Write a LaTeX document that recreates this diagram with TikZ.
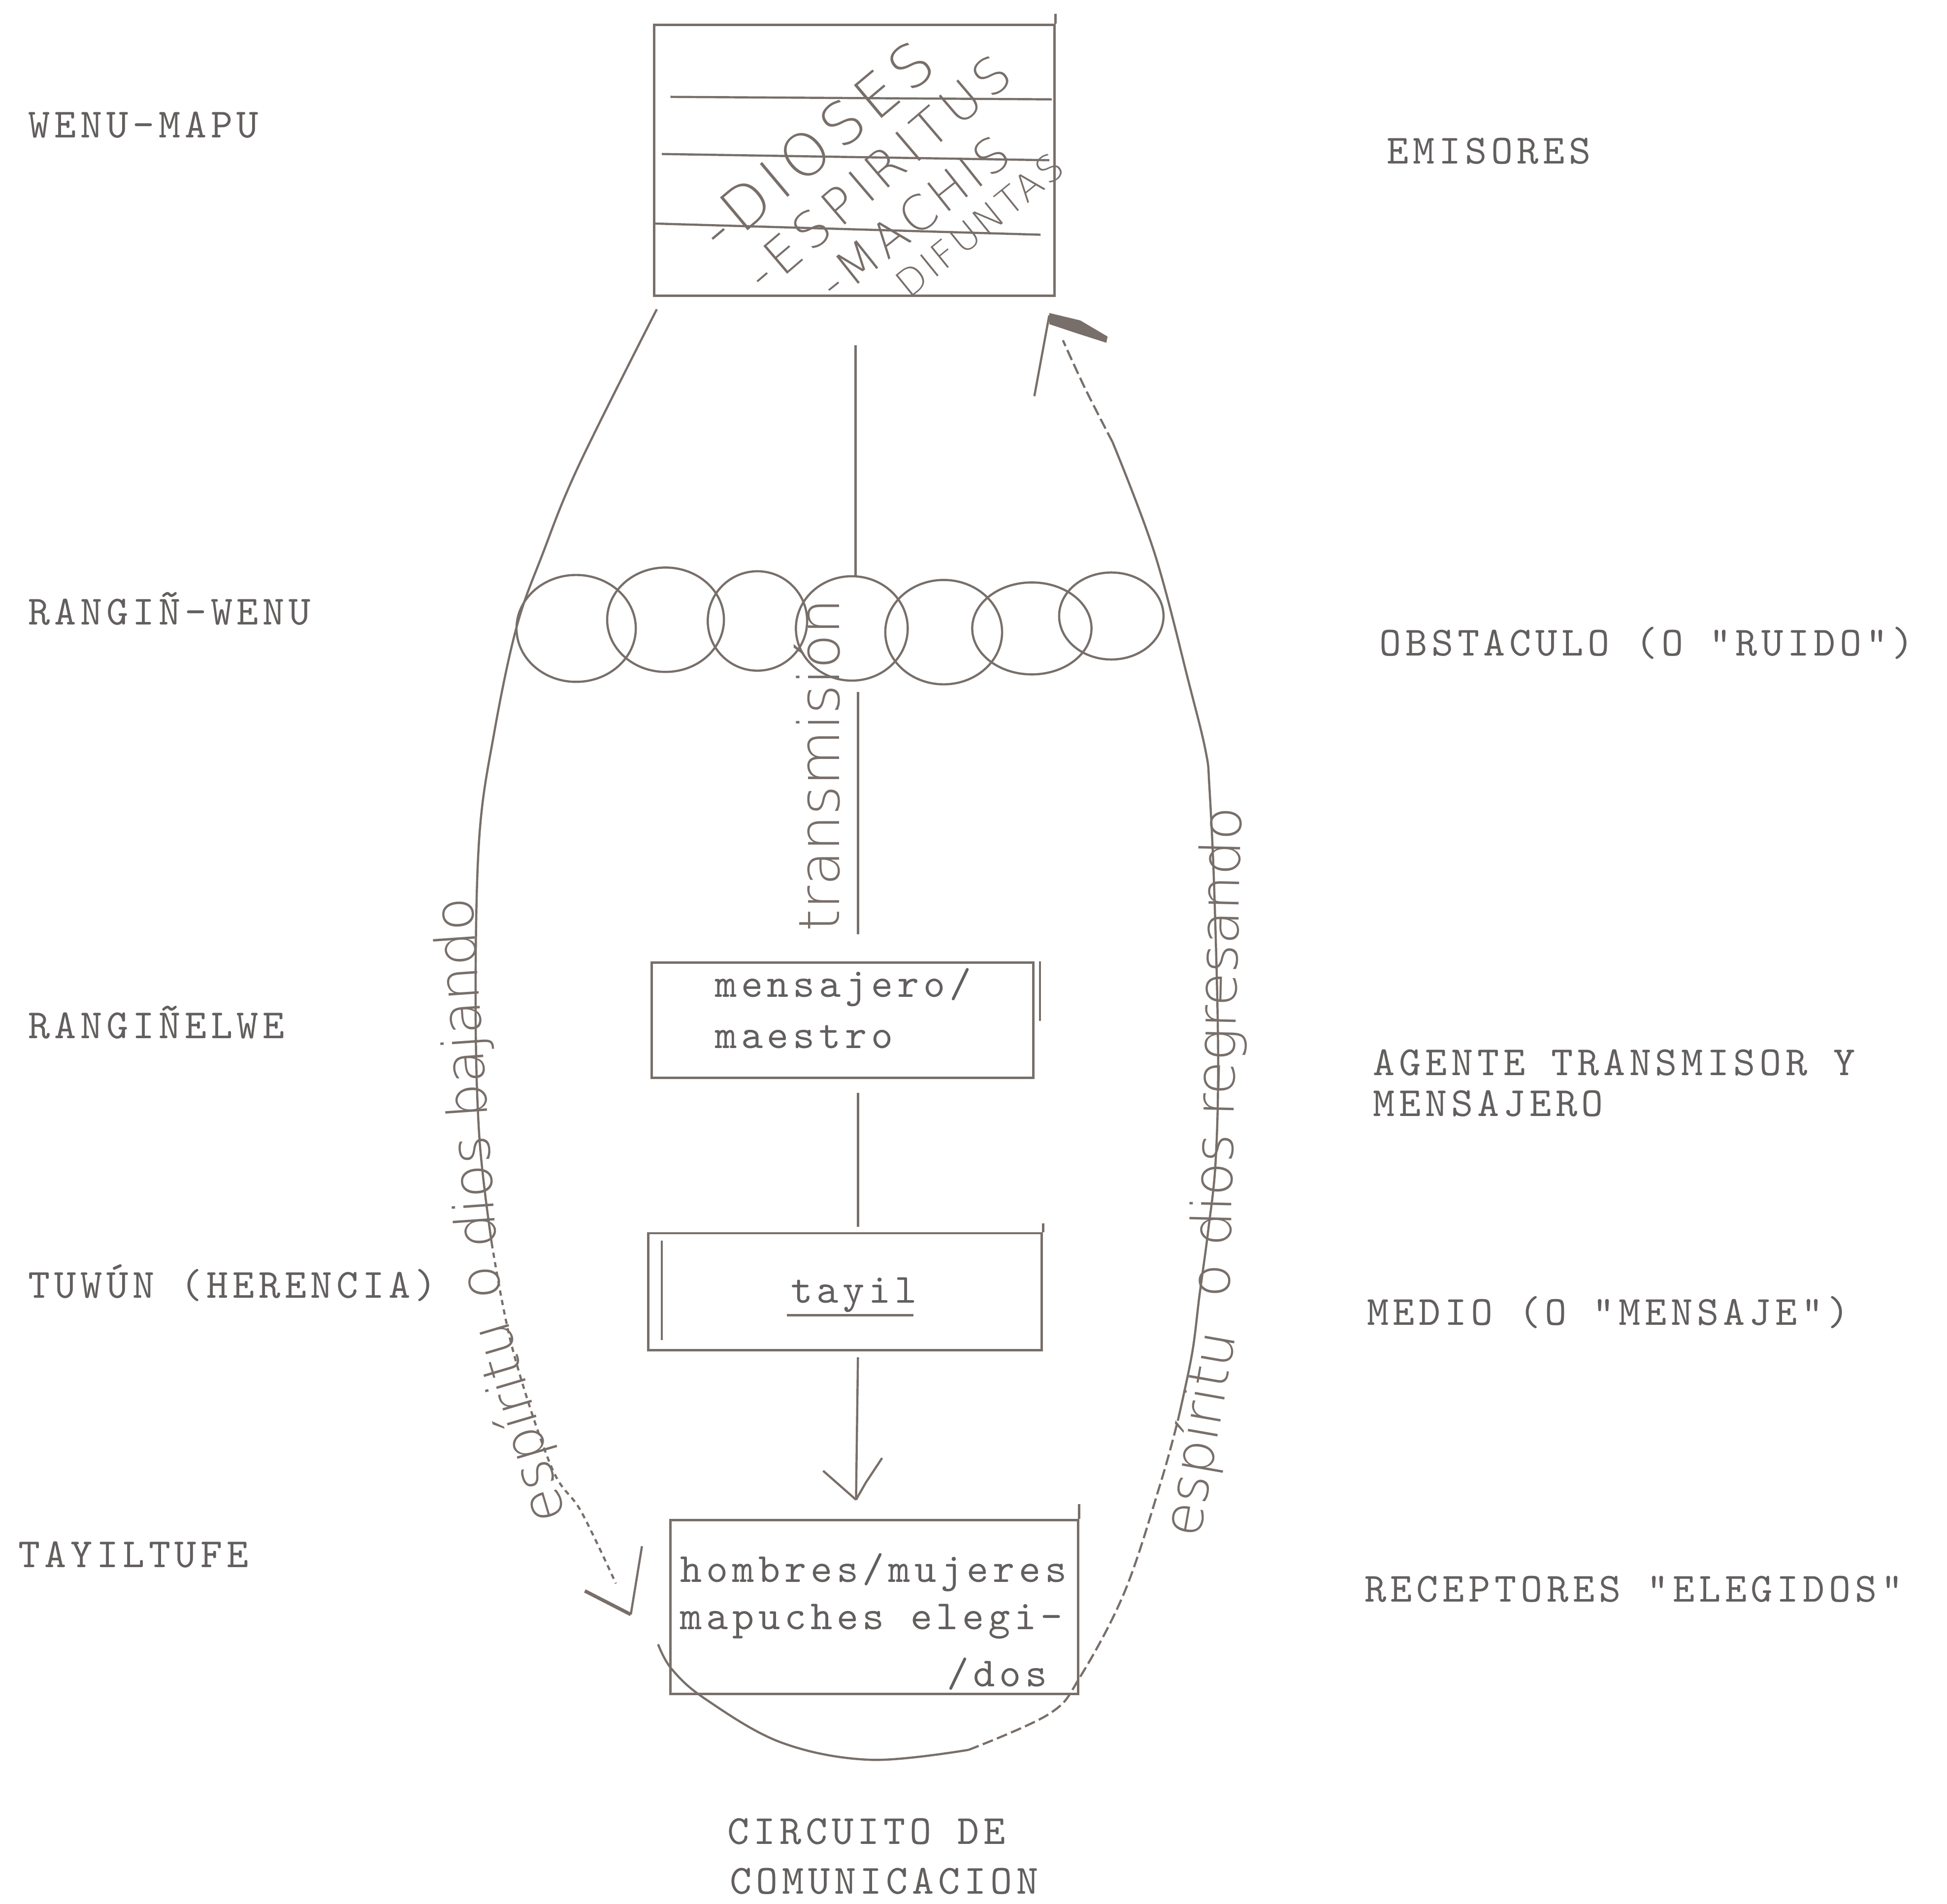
\documentclass[tikz,border=0pt]{standalone}
\usepackage{fontspec}
\usetikzlibrary{calc,shapes.geometric}
\newfontfamily\twfam{lmmono10-regular.otf}[LetterSpace=10.3]
\newfontfamily\hwfam{DejaVuSans-ExtraLight.ttf}
\newfontfamily\hwA{DejaVuSans-ExtraLight.ttf}[LetterSpace=12]
\newfontfamily\hwB{DejaVuSans-ExtraLight.ttf}[LetterSpace=8]
\newfontfamily\hwC{DejaVuSans-ExtraLight.ttf}[LetterSpace=7]
\definecolor{ink}{RGB}{120,111,106}
\definecolor{typ}{RGB}{98,95,94}
\tikzset{
  lbl/.style={anchor=base west, inner sep=0pt, text=typ, font=\twfam\fontsize{9.5}{11}\selectfont},
  tbox/.style={draw=ink, line width=0.55pt, inner sep=0pt, rectangle},
  hw/.style={inner sep=0pt, text=ink},
  side/.style={hw, anchor=base west, font=\hwfam\fontsize{12.6}{14}\selectfont},
  ring/.style={draw=ink, ellipse, inner sep=0pt, line width=0.5pt},
  faint/.style={dash pattern=on 2.5pt off 1pt},
  dotty/.style={dash pattern=on 1.2pt off 1pt},
}
\begin{document}
\begin{tikzpicture}[x=0.01cm,y=-0.01cm,line width=0.5pt,color=ink]
\useasboundingbox (0,0) rectangle (1568,1533);

% ---- left labels
\node[lbl] (l1) at (22,111) {WENU-MAPU};
\node[lbl] (l2) at (22,503) {RANGIÑ-WENU};
\node[lbl] (l3) at (22,836) {RANGIÑELWE};
\node[lbl] (l4) at (22,1045) {TUWÚN (HERENCIA)};
\node[lbl] (l5) at (14,1262) {TAYILTUFE};
% ---- right labels
\node[lbl] (r1) at (1116,132) {EMISORES};
\node[lbl] (r2) at (1110,528) {OBSTACULO (O "RUIDO")};
\node[lbl] (r3a) at (1105,866) {AGENTE TRANSMISOR Y};
\node[lbl] (r3b) at (1105,899) {MENSAJERO};
\node[lbl] (r4) at (1100,1067) {MEDIO (O "MENSAJE")};
\node[lbl] (r5) at (1098,1290) {RECEPTORES "ELEGIDOS"};
% ---- bottom title
\node[lbl] (b1) at (585,1485) {CIRCUITO DE};
\node[lbl] (b2) at (587,1525) {COMUNICACION};

% ---- top box (emisores)
\node[tbox, minimum width=3.22cm, minimum height=2.18cm] (emis) at (688,129) {};
\draw (emis.north east) -- ++(0,-8);
\draw (540,78) -- (847,80);
\draw (533,124) -- (845,129);
\draw (527,180) -- (838,189);
\node[hw, rotate=40, font=\hwA\fontsize{13.5}{15}\selectfont] (w1) at (657,117) {-DIOSES};
\node[hw, rotate=40.5, font=\hwA\fontsize{11.5}{13}\selectfont] (w2) at (707,139) {-ESPIRITUS};
\node[hw, rotate=38.5, font=\hwB\fontsize{11}{13}\selectfont] (w3) at (736,175) {-MACHIS};
\node[hw, rotate=39, font=\hwC\fontsize{8.5}{10}\selectfont] (w4) at (789,181) {DIFUNTAS};

% ---- obstacle rings
\node[ring, minimum width=0.96cm, minimum height=0.86cm] (o1) at (464,506) {};
\node[ring, minimum width=0.94cm, minimum height=0.84cm] (o2) at (536,499) {};
\node[ring, minimum width=0.80cm, minimum height=0.80cm] (o3) at (610,500) {};
\node[ring, minimum width=0.90cm, minimum height=0.84cm] (o4) at (686,506) {};
\node[ring, minimum width=0.94cm, minimum height=0.84cm] (o5) at (760,509) {};
\node[ring, minimum width=0.96cm, minimum height=0.74cm] (o6) at (831,506) {};
\node[ring, minimum width=0.84cm, minimum height=0.70cm] (o7) at (895,496) {};

% ---- mensajero box
\node[tbox, minimum width=3.07cm, minimum height=0.93cm] (mens) at (678.5,821.5) {};
\draw (837.6,774) -- (837.6,822);
\node[lbl] (mt1) at (575,803) {mensajero/};
\node[lbl] (mt2) at (575,844) {maestro};

% ---- tayil box
\node[tbox, minimum width=3.17cm, minimum height=0.94cm] (tay) at (680.5,1040) {};
\draw (533,999) -- (533,1079);
\draw (tay.north east) -- ++(0,-7);
\node[lbl] (tt) at (636,1049) {tayil};
\draw[line width=0.6pt] ([yshift=-2.85pt,xshift=-0.6pt]tt.base west) -- ([yshift=-2.85pt,xshift=-1pt]tt.base east);

% ---- receptor box
\node[tbox, minimum width=3.28cm, minimum height=1.40cm] (rec) at (704,1294) {};
\draw (rec.north east) -- ++(0,-12);
\node[lbl] (rt1) at (547,1274) {hombres/mujeres};
\node[lbl] (rt2) at (547,1312) {mapuches elegi-};
\node[lbl] (rt3) at (762,1358) {/dos};

% ---- central transmission line
\coordinate (vx) at (691,0);
\coordinate (tstart) at (689,278);
\draw (tstart) -- (o4.north -| tstart);
\draw[shorten <=2.3pt, shorten >=6.2pt] (o4.south -| vx) -- (mens.north -| vx);
\draw[shorten <=3.1pt, shorten >=1.2pt] (mens.south -| vx) -- (tay.north -| vx);
\coordinate (tipC) at ($(rec.north -| vx)+(-1.6,-15.4)$);
\draw[shorten <=1.4pt] (tay.south -| vx) -- (tipC);
\draw (tipC) -- ++(-26.5,-23.3);
\draw (tipC) -- ++(8,-14) -- ++(4,-6) -- ++(9,-13.6);
\node[hw, rotate=90, anchor=base west, font=\hwfam\fontsize{13}{15}\selectfont] (trans) at (676,751) {transmisión};

% ---- the loop (descending left, returning right)
\coordinate (Ls) at ($(emis.south west)+(3,10)$);
\draw plot[smooth, tension=0.6] coordinates {(Ls) (466,375) (437,446) (416,505) (398,590) (386,674) (383,803) (386,915) (396,1001)};
\draw[dotty] plot[smooth, tension=0.6] coordinates {(396,1001) (413,1087) (444,1181) (468,1217) (496,1275)};
\coordinate (tipL) at (508,1300);
\draw[line width=0.8pt] (471,1281) -- (tipL);
\draw (517,1245) -- (tipL);
\draw plot[smooth, tension=0.6] coordinates {(530,1324) (541,1344) (568,1368) (629,1403) (701,1417) (780,1409)};
\draw[faint] plot[smooth, tension=0.6] coordinates {(780,1409) (845,1380) (870,1350) (906,1281) (935,1193) (949,1142)};
\draw plot[smooth, tension=0.6] coordinates {(949,1142) (960,1090) (966,1043) (973,991) (979,935) (981,849) (978,720) (974,634) (971,605) (958,552) (930,446) (896,356)};
\coordinate (tipR) at (845,254);
\draw[faint] plot[smooth, tension=0.6] coordinates {(896,356) (874,313) (856,274)};
\draw (tipR) -- (833,319);
\fill (845,252) -- (870,258) -- (892,271) -- (891,276) -- (866,268) -- (845,261) -- cycle;

% ---- handwritten labels along the loop
\node[side, rotate=106.5] (sl1) at (456,1222) {espíritu};
\node[side, rotate=94] (sl2) at (403,1046) {o dios bajando};
\node[side, rotate=80] (sr1) at (966,1240) {espíritu};
\node[side, rotate=88.6] (sr2) at (990,1046) {o dios regresando};
\end{tikzpicture}
\end{document}
